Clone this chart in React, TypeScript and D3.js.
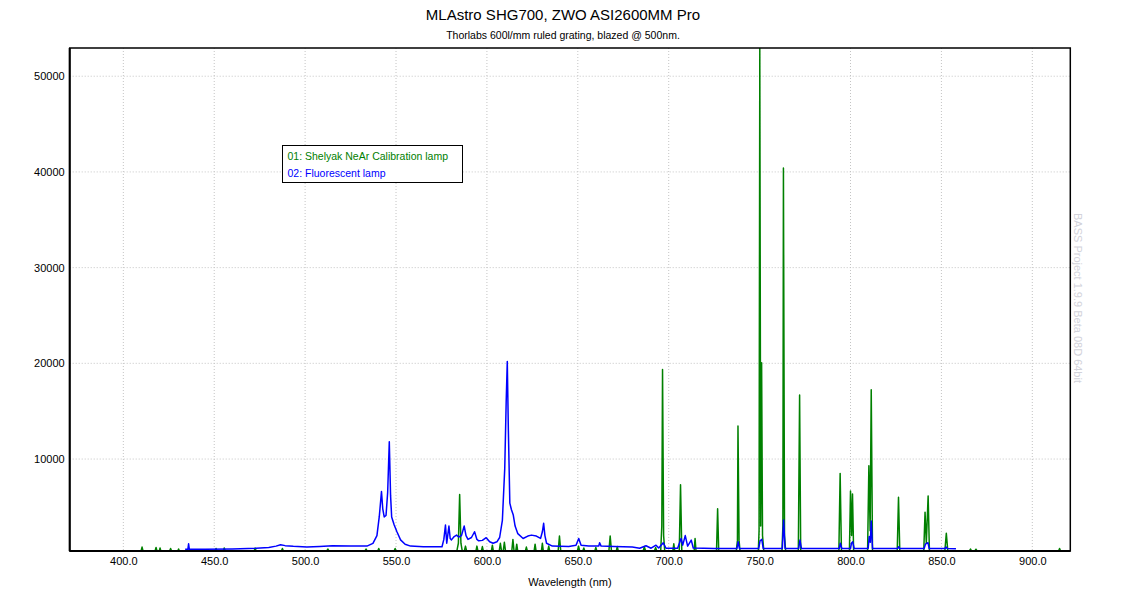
import React, { useEffect, useRef } from 'react'
import * as d3 from 'd3'

const chartTitle = 'MLAstro SHG700, ZWO ASI2600MM Pro'
const chartSubtitle = 'Thorlabs 600l/mm ruled grating, blazed @ 500nm.'
const xLabel = 'Wavelength (nm)'
const watermark = 'BASS Project 1.9.9 Beta 08D 64bit'

const xTicks = [400, 450, 500, 550, 600, 650, 700, 750, 800, 850, 900]
const yTicks = [10000, 20000, 30000, 40000, 50000]

const seriesNames = ['01: Shelyak NeAr Calibration lamp', '02: Fluorescent lamp']
const seriesColors = ['#008000', '#0000ff']

// [wavelength nm, intensity]
const calibrationLamp: [number, number][] = [
  [402, 420], [409.8, 420], [410.3, 800], [410.8, 420], [417.5, 420], [418, 750], [418.5, 420],
  [419.8, 420], [420.2, 700], [420.6, 420], [425.5, 420], [426, 650], [426.5, 420], [430, 420],
  [430.4, 600], [430.8, 420], [450.5, 420], [451, 650], [451.5, 420], [455, 420], [455.5, 700],
  [456, 420], [472, 420], [472.5, 700], [473, 420], [487, 420], [487.5, 650], [488, 420],
  [512, 420], [512.5, 600], [513, 420], [533, 420], [533.5, 600], [534, 420], [540, 420],
  [540.5, 650], [541, 420], [549, 420], [549.5, 650], [550, 420],
  [583.5, 420], [584.3, 1200], [585.0, 6300], [585.7, 1200], [586.4, 420], [587.6, 420],
  [588.2, 900], [588.8, 420], [594, 420], [594.5, 900], [595, 420], [597, 420], [597.5, 850],
  [598, 420], [602.5, 420], [603, 1000], [603.5, 420], [606.8, 420], [607.4, 1200], [608, 420],
  [609, 420], [609.6, 1300], [610.2, 420], [613.7, 420], [614.3, 1600], [614.9, 420],
  [615.9, 420], [616.4, 1100], [616.9, 420], [621.2, 420], [621.7, 800], [622.2, 420],
  [626, 420], [626.5, 1100], [627, 420], [630, 420], [630.5, 1200], [631, 420], [633.5, 420],
  [634, 900], [634.5, 420], [639.2, 420], [639.9, 1950], [640.6, 420], [649.8, 420],
  [650.4, 900], [651, 420], [652.8, 420], [653.3, 700], [653.8, 420], [659.4, 420],
  [659.9, 750], [660.4, 420], [667.1, 420], [667.8, 1950], [668.5, 420], [671.2, 420],
  [671.7, 850], [672.2, 420], [686, 420], [686.6, 850], [687.2, 420], [692.2, 420],
  [692.8, 750], [693.4, 420], [695.6, 420], [696.2, 3000], [696.6, 19350], [697.2, 2000],
  [697.8, 420], [702.3, 420], [702.8, 1150], [703.3, 420], [705.8, 420], [706.5, 7300],
  [707.2, 420], [714, 420], [714.5, 1700], [715, 420], [726.3, 420], [726.9, 4800],
  [727.5, 420], [737.2, 420], [737.8, 1500], [738.1, 13450], [738.7, 1500], [739.2, 420],
  [749.3, 420], [749.7, 2500], [750.1, 52900], [750.6, 3000], [751.1, 20050], [751.6, 2000],
  [752.3, 420], [762.3, 420], [762.8, 3000], [763.1, 40400], [763.7, 2000], [764.3, 420],
  [771.3, 420], [772.0, 16700], [772.6, 420], [793.6, 420], [794.3, 8500], [795, 420],
  [799.4, 420], [800.0, 6650], [800.6, 2000], [801.1, 6350], [801.7, 420], [809.4, 420],
  [810.1, 9300], [810.8, 2500], [811.4, 17250], [812.1, 420], [825.7, 420], [826.4, 6000],
  [827.1, 420], [840.3, 420], [841.0, 4450], [841.7, 1200], [842.7, 6150], [843.4, 420],
  [851.9, 420], [852.7, 2250], [853.5, 420], [865.5, 420], [866, 600], [866.5, 420],
  [868.5, 420], [869, 580], [869.5, 420], [914.5, 420], [915, 650], [915.5, 420], [917, 420],
]

const fluorescentLamp: [number, number][] = [
  [434.0, 560], [435.5, 560], [435.9, 1150], [436.3, 560], [445, 560], [460, 600], [473, 670],
  [480, 760], [484, 900], [486.5, 1050], [489, 950], [493.5, 880], [501, 800], [508, 860],
  [515, 940], [525, 920], [534, 900], [537.3, 1190], [539.5, 2000], [540.8, 4000],
  [542.0, 6600], [542.7, 4800], [543.5, 3950], [544.5, 4100], [545.4, 6500], [546.3, 11800],
  [547.0, 6200], [547.6, 3950], [549, 3100], [550.5, 2400], [552.5, 1550], [555, 1100],
  [558, 900], [565, 830], [575.3, 830], [576.3, 1600], [577.2, 3100], [577.9, 1200],
  [578.5, 2100], [579.1, 3000], [579.8, 1700], [580.5, 1550], [582, 1900], [583.3, 2050],
  [584.5, 1850], [586, 2000], [587.5, 3000], [588.5, 2000], [589.6, 1600], [591.5, 1800],
  [593.2, 2400], [594.5, 1600], [595.5, 1450], [597.5, 1500], [599.6, 1780], [601.5, 1350],
  [603.4, 1200], [605.5, 1350], [607, 1800], [608.5, 3600], [609.8, 9000], [610.6, 16000],
  [611.2, 20200], [611.8, 13000], [612.6, 5400], [613.5, 4700], [614.5, 4150], [615.5, 3000],
  [617, 2200], [619.9, 1700], [622.5, 1950], [624.5, 2050], [627.2, 1950], [629.5, 1700],
  [630.5, 2400], [631.2, 3280], [631.9, 2000], [632.8, 1200], [636, 900], [645, 850],
  [649.0, 1000], [650.5, 1700], [651.8, 1000], [656, 900], [661.5, 900], [662, 1250],
  [662.8, 900], [670, 850], [680, 800], [684, 680], [687.5, 940], [690.3, 680], [693, 1000],
  [694.5, 700], [697.0, 1250], [698.5, 680], [704.9, 680], [706.8, 1700], [707.7, 1000],
  [709.1, 2000], [710.4, 900], [712.4, 1530], [713.5, 700], [725, 650], [737.5, 650],
  [738.2, 1350], [738.9, 650], [749.5, 650], [750.2, 1430], [751.2, 1600], [752, 650],
  [762.5, 650], [763.2, 3620], [764, 650], [771.5, 650], [772.2, 1530], [773, 650],
  [793.8, 650], [794.4, 1200], [795.2, 650], [800, 650], [800.5, 1200], [801.2, 1350],
  [802, 650], [809.7, 650], [810.3, 1900], [810.9, 1300], [811.4, 3520], [812.1, 650],
  [826, 650], [826.5, 840], [827, 650], [840.5, 650], [841.2, 1100], [842.6, 1260],
  [843.3, 650], [852, 650], [852.6, 800], [853.2, 650], [858, 620],
]

const font = '"Liberation Sans", Arial, sans-serif'

const App: React.FC = () => {
  const ref = useRef<SVGSVGElement>(null)

  useEffect(() => {
    if (!ref.current) return
    const width = 1126
    const height = 600
    const svg = d3.select(ref.current)
    svg.selectAll('*').remove()

    const margin = { top: 48, right: 55.7, bottom: 49, left: 69.7 }
    const innerWidth = width - margin.left - margin.right
    const innerHeight = height - margin.top - margin.bottom

    const x = d3.scaleLinear().domain([370.5, 920.9]).range([0, innerWidth])
    const y = d3.scaleLinear().domain([390, 52950]).range([innerHeight, 0])

    svg.append('rect').attr('width', width).attr('height', height).attr('fill', '#fff')

    svg.append('text')
      .attr('x', 563).attr('y', 20)
      .attr('text-anchor', 'middle')
      .attr('font-family', font).attr('font-size', 15)
      .text(chartTitle)

    svg.append('text')
      .attr('x', 563).attr('y', 39)
      .attr('text-anchor', 'middle')
      .attr('font-family', font).attr('font-size', 10.5)
      .text(chartSubtitle)

    const g = svg.append('g')
      .attr('transform', `translate(${margin.left},${margin.top})`)

    // grid
    g.append('g')
      .selectAll('line')
      .data(xTicks)
      .enter().append('line')
      .attr('x1', d => x(d)).attr('x2', d => x(d))
      .attr('y1', 0).attr('y2', innerHeight)
      .attr('stroke', '#c4c4c4').attr('stroke-dasharray', '1,2')

    g.append('g')
      .selectAll('line')
      .data(yTicks)
      .enter().append('line')
      .attr('x1', 0).attr('x2', innerWidth)
      .attr('y1', d => y(d)).attr('y2', d => y(d))
      .attr('stroke', '#c4c4c4').attr('stroke-dasharray', '1,2')

    svg.append('clipPath').attr('id', 'plot-clip')
      .append('rect').attr('width', innerWidth).attr('height', innerHeight)

    const line = d3.line<[number, number]>()
      .x(d => x(d[0]))
      .y(d => y(d[1]))

    const plot = g.append('g').attr('clip-path', 'url(#plot-clip)')

    plot.append('path')
      .datum(calibrationLamp)
      .attr('d', line)
      .attr('fill', 'none')
      .attr('stroke', seriesColors[0])
      .attr('stroke-width', 1.5)
      .attr('stroke-linejoin', 'round')

    plot.append('path')
      .datum(fluorescentLamp)
      .attr('d', line)
      .attr('fill', 'none')
      .attr('stroke', seriesColors[1])
      .attr('stroke-width', 1.5)
      .attr('stroke-linejoin', 'round')

    // axes
    const xAxis = g.append('g')
      .attr('transform', `translate(0,${innerHeight})`)
      .call(d3.axisBottom(x).tickValues(xTicks).tickFormat(d3.format('.1f')).tickSize(0).tickPadding(6))
    const yAxis = g.append('g')
      .call(d3.axisLeft(y).tickValues(yTicks).tickFormat(d3.format('d')).tickSize(0).tickPadding(5))
    for (const a of [xAxis, yAxis]) {
      a.select('.domain').remove()
      a.selectAll('text').attr('font-family', font).attr('font-size', 11).attr('fill', '#000')
    }

    g.append('rect')
      .attr('width', innerWidth).attr('height', innerHeight)
      .attr('fill', 'none').attr('stroke', '#000').attr('stroke-width', 1.5)
    g.append('line')
      .attr('x1', 0).attr('x2', 0).attr('y1', 0).attr('y2', innerHeight)
      .attr('stroke', '#000').attr('stroke-width', 2)
    g.append('line')
      .attr('x1', 0).attr('x2', innerWidth).attr('y1', innerHeight).attr('y2', innerHeight)
      .attr('stroke', '#000').attr('stroke-width', 2)

    svg.append('text')
      .attr('x', margin.left + innerWidth / 2).attr('y', 586)
      .attr('text-anchor', 'middle')
      .attr('font-family', font).attr('font-size', 11)
      .text(xLabel)

    // legend
    const legend = svg.append('g').attr('transform', 'translate(282.5,145.5)')
    legend.append('rect')
      .attr('width', 180).attr('height', 37)
      .attr('fill', '#fff').attr('stroke', '#000').attr('stroke-width', 1)
    legend.selectAll('text')
      .data(seriesNames)
      .enter().append('text')
      .attr('x', 5).attr('y', (_, i) => 14.5 + i * 17)
      .attr('font-family', font).attr('font-size', 10.5)
      .attr('fill', (_, i) => seriesColors[i])
      .text(d => d)

    svg.append('text')
      .attr('transform', 'translate(1074,298) rotate(90)')
      .attr('text-anchor', 'middle')
      .attr('font-family', font).attr('font-size', 11)
      .attr('fill', '#d2d2da')
      .text(watermark)
  }, [])

  return (
    <svg ref={ref} width={1126} height={600}
      style={{ position: 'absolute', left: 0, top: 0, display: 'block' }} />
  )
}

export default App
